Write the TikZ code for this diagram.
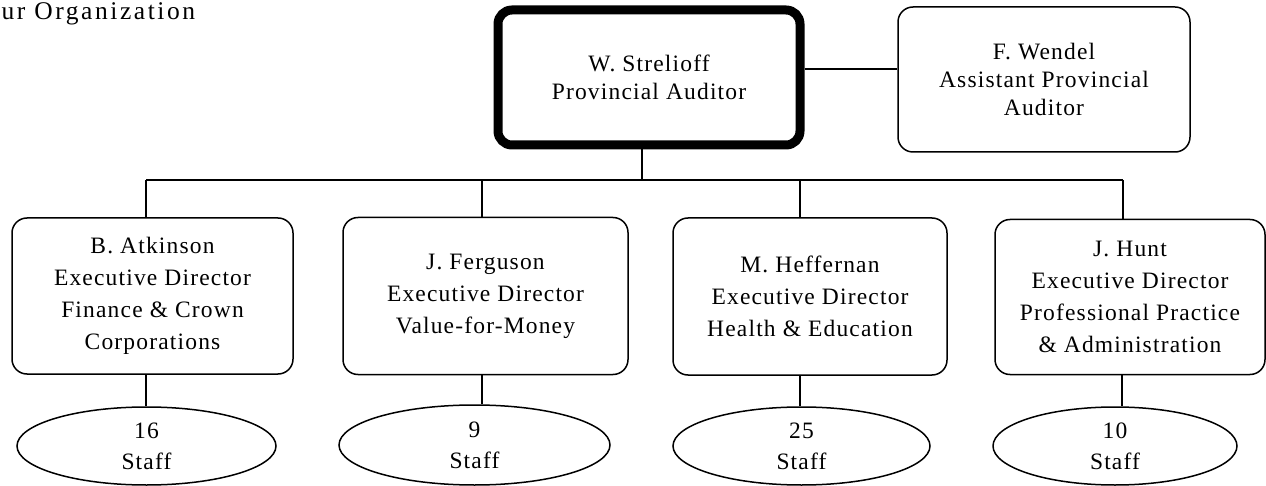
\documentclass[tikz,border=0pt]{standalone}
\usepackage{fontspec}
\setmainfont{Liberation Serif}[LetterSpace=5]
\newfontfamily\titlefont{Liberation Serif}[LetterSpace=10]
\usetikzlibrary{shapes.geometric}
\tikzset{
  box/.style={draw, line width=1.5pt, rounded corners=15pt, inner sep=0pt, align=center,
    font=\fontsize{23.5}{32}\selectfont},
  topbox/.style={box, font=\fontsize{23.5}{28}\selectfont},
  chief/.style={topbox, line width=9pt, rounded corners=14pt},
  staff/.style={draw, line width=1.5pt, ellipse, inner sep=0pt, align=center,
    font=\fontsize{23.5}{31}\selectfont},
  conn/.style={line width=1.5pt},
}
\begin{document}
\begin{tikzpicture}[x=1pt,y=-1pt]
\useasboundingbox (0,0) rectangle (1266,486);
\node[anchor=base west, inner sep=0pt, font=\titlefont\fontsize{25.5}{30}\selectfont] (title) at (1.5,20) {ur Organization};
\node[chief, minimum width=302pt, minimum height=135pt] (strel) at (649,77.5) {W. Strelioff\\Provincial Auditor};
\node[topbox, minimum width=292pt, minimum height=145pt] (wendel) at (1044,79.5) {F. Wendel\\Assistant Provincial\\Auditor};
\node[box, minimum width=281pt, minimum height=156pt] (b1) at (152.5,296) {B. Atkinson\\Executive Director\\Finance \& Crown\\Corporations};
\node[box, minimum width=285pt, minimum height=157pt] (b2) at (485.5,296) {J. Ferguson\\Executive Director\\Value-for-Money};
\node[box, minimum width=274pt, minimum height=157pt] (b3) at (810,296.5) {M. Heffernan\\Executive Director\\Health \& Education};
\node[box, minimum width=270pt, minimum height=155pt] (b4) at (1130,297) {J. Hunt\\Executive Director\\Professional Practice\\\& Administration};
\node[staff, minimum width=259pt, minimum height=78pt] (e1) at (146.5,446) {16\\Staff};
\node[staff, minimum width=271pt, minimum height=80pt] (e2) at (474.5,445) {9\\Staff};
\node[staff, minimum width=257pt, minimum height=78pt] (e3) at (801.5,446) {25\\Staff};
\node[staff, minimum width=244pt, minimum height=78pt] (e4) at (1115,446) {10\\Staff};
% connector coordinates
\coordinate (h) at (0,69);
\coordinate (s0) at (642,180);
\coordinate (d1) at (146,180);
\coordinate (d2) at (482,180);
\coordinate (d3) at (800,180);
\coordinate (d4) at (1123,180);
\coordinate (d5) at (1122,180);
\draw[conn] (strel.east |- h) -- (wendel.west |- h);
\draw[conn] (s0 |- strel.south) -- (s0);
\draw[conn] (d1) -- (d4);
\draw[conn] (d1) -- (d1 |- b1.north);
\draw[conn] (d2) -- (d2 |- b2.north);
\draw[conn] (d3) -- (d3 |- b3.north);
\draw[conn] (d4) -- (d4 |- b4.north);
\draw[conn] (d1 |- b1.south) -- (d1 |- e1.north);
\draw[conn] (d2 |- b2.south) -- (d2 |- e2.north);
\draw[conn] (d3 |- b3.south) -- (d3 |- e3.north);
\draw[conn] (d5 |- b4.south) -- (d5 |- e4.north);
\end{tikzpicture}
\end{document}
